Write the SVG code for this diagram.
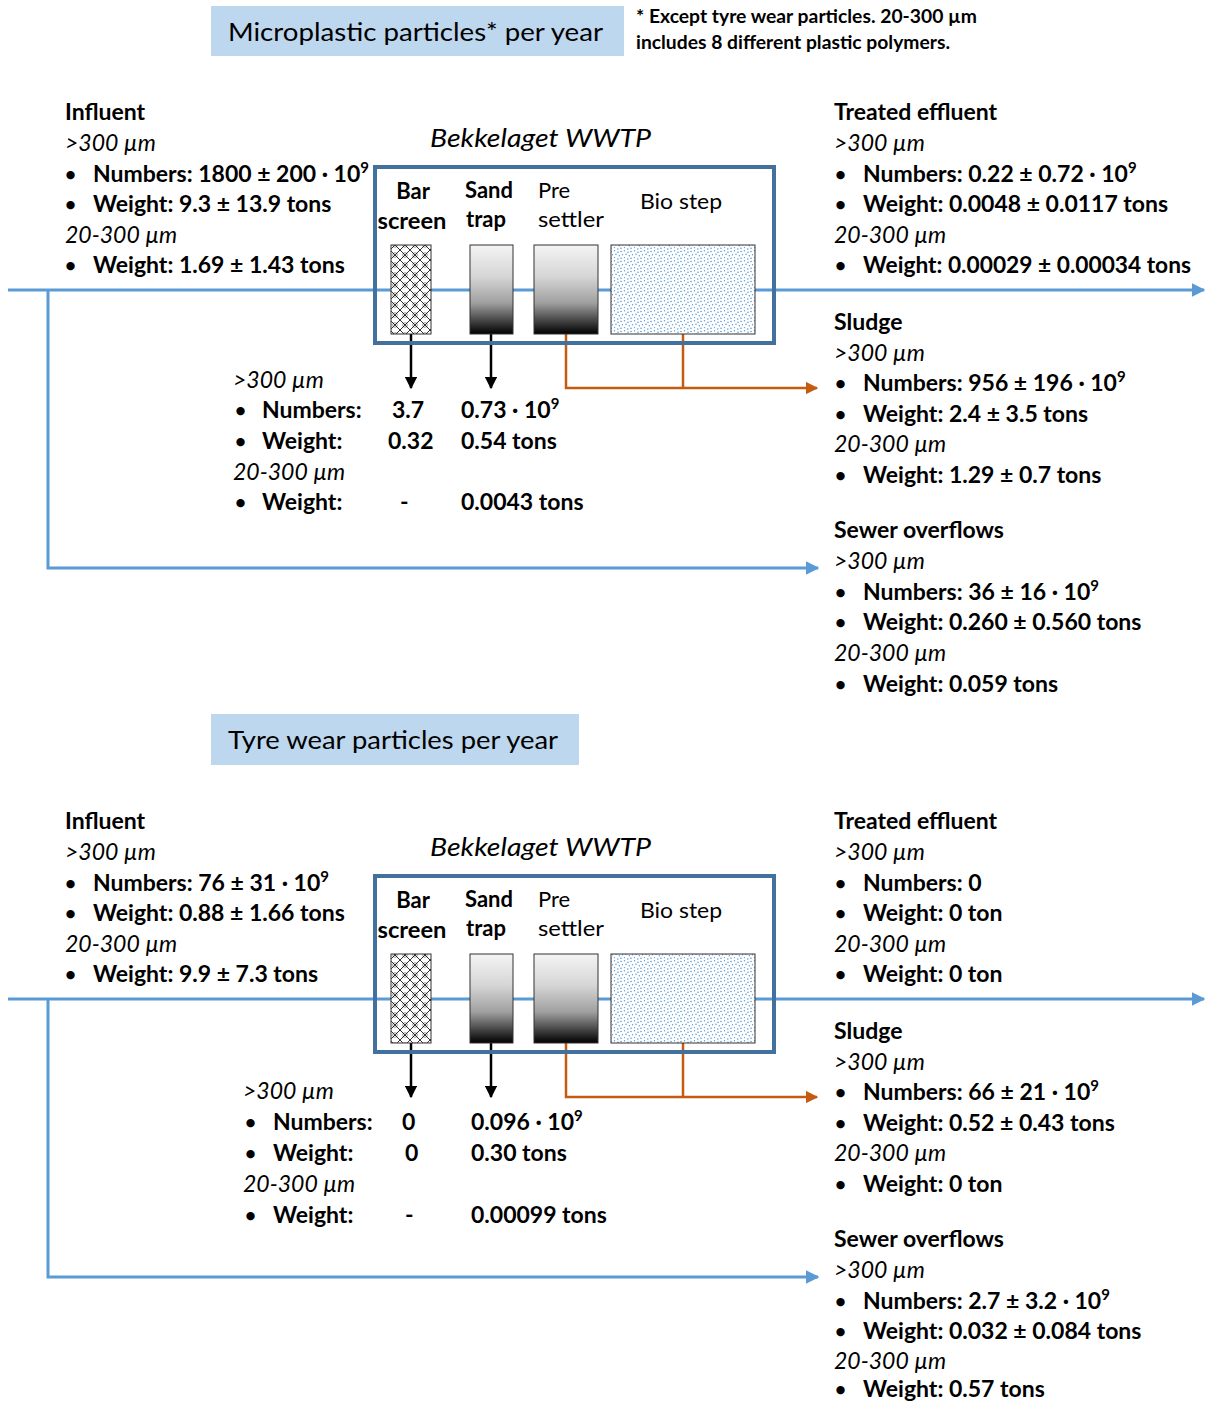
<svg xmlns="http://www.w3.org/2000/svg" width="1208" height="1403" viewBox="0 0 1208 1403">
<style>
text{font-family:Lato,"Liberation Sans",sans-serif;fill:#000}
.title{font-size:25px;font-weight:normal}
.note{font-size:18px;font-weight:bold}
.h{font-size:23px;font-weight:bold}
.i{font-size:23px;font-style:italic}
.b{font-size:23px;font-weight:bold}
.bu{font-size:19px;font-weight:bold}
.w{font-size:25px;font-style:italic}
.lb{font-size:22px;font-weight:bold}
.lr{font-size:22px;font-weight:normal}
.sup{font-size:15px}
.tbox{fill:#BDD7EE}
.plant{fill:none;stroke:#41719C;stroke-width:4}
.unit{stroke:#333;stroke-width:1}
.flow{fill:none;stroke:#5B9BD5;stroke-width:3}
.solid{fill:none;stroke:#000;stroke-width:2.5}
.sl{fill:none;stroke:#C55A11;stroke-width:2.5}
</style>
<defs>
<marker id="ab" viewBox="0 0 10 10" refX="9" refY="5" markerWidth="4.5" markerHeight="4.5" orient="auto" markerUnits="strokeWidth"><path d="M0,0 L10,5 L0,10 z" fill="#5B9BD5"/></marker>
<marker id="ak" viewBox="0 0 10 10" refX="9" refY="5" markerWidth="5" markerHeight="5" orient="auto" markerUnits="strokeWidth"><path d="M0,0 L10,5 L0,10 z" fill="#000"/></marker>
<marker id="ao" viewBox="0 0 10 10" refX="9" refY="5" markerWidth="5" markerHeight="5" orient="auto" markerUnits="strokeWidth"><path d="M0,0 L10,5 L0,10 z" fill="#C55A11"/></marker>
<pattern id="hatch" patternUnits="userSpaceOnUse" width="10" height="10">
<rect width="10" height="10" fill="#fff"/>
<path d="M0,0 L10,10 M10,0 L0,10 M-1,9 L1,11 M9,-1 L11,1" stroke="#000" stroke-width="0.8" fill="none"/>
<circle cx="5" cy="5" r="2.3" fill="none" stroke="#000" stroke-width="0.4"/>
</pattern>
<linearGradient id="grad" x1="0" y1="0" x2="0" y2="1">
<stop offset="0" stop-color="#F4F4F4"/>
<stop offset="0.35" stop-color="#D6D6D6"/>
<stop offset="0.65" stop-color="#A0A0A0"/>
<stop offset="1" stop-color="#000"/>
</linearGradient>
<pattern id="dots" patternUnits="userSpaceOnUse" width="10" height="10">
<rect width="10" height="10" fill="#fff"/>
<g fill="#5B9BD5">
<circle cx="1" cy="1.5" r="0.8"/><circle cx="4.5" cy="0.8" r="0.7"/><circle cx="8" cy="2.2" r="0.8"/>
<circle cx="2.5" cy="4.8" r="0.7"/><circle cx="6" cy="4.2" r="0.8"/><circle cx="9.3" cy="5.8" r="0.7"/>
<circle cx="1" cy="8.3" r="0.8"/><circle cx="4.5" cy="7.6" r="0.7"/><circle cx="7.8" cy="9" r="0.8"/>
</g>
</pattern>
</defs>

<!-- ============ TOP: Microplastic ============ -->
<g id="title-micro">
<rect class="tbox" x="211" y="6" width="413" height="50"/>
<text class="title" x="228" y="41" textLength="375" lengthAdjust="spacingAndGlyphs">Microplastic particles* per year</text>
</g>
<g id="footnote">
<text class="note" x="636" y="23" textLength="341" lengthAdjust="spacingAndGlyphs">* Except tyre wear particles. 20-300 µm</text>
<text class="note" x="636" y="49" textLength="314" lengthAdjust="spacingAndGlyphs">includes 8 different plastic polymers.</text>
</g>

<g id="connectors-top">
<path class="flow" d="M8,290 H1204" marker-end="url(#ab)"/>
<path class="flow" d="M48,290 V568 H818" marker-end="url(#ab)"/>
<path class="solid" d="M411,334 V388" marker-end="url(#ak)"/>
<path class="solid" d="M491,334 V388" marker-end="url(#ak)"/>
<path class="sl" d="M566,334 V388 H817" marker-end="url(#ao)"/>
<path class="sl" d="M683,334 V388"/>
</g>

<g id="wwtp-top">
<text class="w" x="430" y="147" textLength="221" lengthAdjust="spacingAndGlyphs">Bekkelaget WWTP</text>
<rect class="plant" x="375" y="167" width="399" height="176"/>
</g>
<g id="bar-screen-top">
<text class="lb" x="413" y="199" text-anchor="middle">Bar</text>
<text class="lb" x="412" y="229" text-anchor="middle" textLength="69" lengthAdjust="spacingAndGlyphs">screen</text>
<rect class="unit" x="391" y="245" width="40" height="89" fill="url(#hatch)"/>
</g>
<g id="sand-trap-top">
<text class="lb" x="465" y="198">Sand</text>
<text class="lb" x="466" y="227">trap</text>
<rect class="unit" x="470" y="245" width="43" height="89" fill="url(#grad)"/>
</g>
<g id="pre-settler-top">
<text class="lr" x="538" y="198">Pre</text>
<text class="lr" x="538" y="227" textLength="66" lengthAdjust="spacingAndGlyphs">settler</text>
<rect class="unit" x="534" y="245" width="64" height="89" fill="url(#grad)"/>
</g>
<g id="bio-step-top">
<text class="lr" x="640" y="209" textLength="82" lengthAdjust="spacingAndGlyphs">Bio step</text>
<rect class="unit" x="611" y="245" width="144" height="89" fill="url(#dots)"/>
</g>

<g id="influent-top">
<text class="h" x="65" y="120">Influent</text>
<text class="i" x="65" y="151">&gt;300 µm</text>
<text class="bu" x="65" y="181">•</text><text class="b" x="93" y="182">Numbers: 1800 ± 200 · 10<tspan class="sup" dy="-9">9</tspan></text>
<text class="bu" x="65" y="211">•</text><text class="b" x="93" y="212">Weight: 9.3 ± 13.9 tons</text>
<text class="i" x="65" y="243">20-300 µm</text>
<text class="bu" x="65" y="272">•</text><text class="b" x="93" y="273">Weight: 1.69 ± 1.43 tons</text>
</g>

<g id="removed-top">
<text class="i" x="233" y="388">&gt;300 µm</text>
<text class="bu" x="235" y="417">•</text><text class="b" x="262" y="418">Numbers:</text>
<text class="b" x="392" y="418">3.7</text>
<text class="b" x="461" y="418">0.73 · 10<tspan class="sup" dy="-9">9</tspan></text>
<text class="bu" x="235" y="448">•</text><text class="b" x="262" y="449">Weight:</text>
<text class="b" x="388" y="449">0.32</text>
<text class="b" x="461" y="449">0.54 tons</text>
<text class="i" x="233" y="480">20-300 µm</text>
<text class="bu" x="235" y="509">•</text><text class="b" x="262" y="510">Weight:</text>
<text class="b" x="400" y="510">-</text>
<text class="b" x="461" y="510">0.0043 tons</text>
</g>

<g id="effluent-top">
<text class="h" x="834" y="120">Treated effluent</text>
<text class="i" x="834" y="151">&gt;300 µm</text>
<text class="bu" x="835" y="181">•</text><text class="b" x="863" y="182">Numbers: 0.22 ± 0.72 · 10<tspan class="sup" dy="-9">9</tspan></text>
<text class="bu" x="835" y="211">•</text><text class="b" x="863" y="212">Weight: 0.0048 ± 0.0117 tons</text>
<text class="i" x="834" y="243">20-300 µm</text>
<text class="bu" x="835" y="272">•</text><text class="b" x="863" y="273" textLength="328" lengthAdjust="spacingAndGlyphs">Weight: 0.00029 ± 0.00034 tons</text>
</g>

<g id="sludge-top">
<text class="h" x="834" y="330">Sludge</text>
<text class="i" x="834" y="361">&gt;300 µm</text>
<text class="bu" x="835" y="390">•</text><text class="b" x="863" y="391">Numbers: 956 ± 196 · 10<tspan class="sup" dy="-9">9</tspan></text>
<text class="bu" x="835" y="421">•</text><text class="b" x="863" y="422">Weight: 2.4 ± 3.5 tons</text>
<text class="i" x="834" y="452">20-300 µm</text>
<text class="bu" x="835" y="482">•</text><text class="b" x="863" y="483">Weight: 1.29 ± 0.7 tons</text>
</g>

<g id="overflow-top">
<text class="h" x="834" y="538">Sewer overflows</text>
<text class="i" x="834" y="569">&gt;300 µm</text>
<text class="bu" x="835" y="599">•</text><text class="b" x="863" y="600">Numbers: 36 ± 16 · 10<tspan class="sup" dy="-9">9</tspan></text>
<text class="bu" x="835" y="629">•</text><text class="b" x="863" y="630">Weight: 0.260 ± 0.560 tons</text>
<text class="i" x="834" y="661">20-300 µm</text>
<text class="bu" x="835" y="691">•</text><text class="b" x="863" y="692">Weight: 0.059 tons</text>
</g>

<!-- ============ BOTTOM: Tyre wear ============ -->
<g id="title-tyre">
<rect class="tbox" x="211" y="714" width="368" height="51"/>
<text class="title" x="228" y="749" textLength="330" lengthAdjust="spacingAndGlyphs">Tyre wear particles per year</text>
</g>

<g id="connectors-bottom">
<path class="flow" d="M8,999 H1204" marker-end="url(#ab)"/>
<path class="flow" d="M48,999 V1277 H818" marker-end="url(#ab)"/>
<path class="solid" d="M411,1043 V1097" marker-end="url(#ak)"/>
<path class="solid" d="M491,1043 V1097" marker-end="url(#ak)"/>
<path class="sl" d="M566,1043 V1097 H817" marker-end="url(#ao)"/>
<path class="sl" d="M683,1043 V1097"/>
</g>

<g id="wwtp-bottom">
<text class="w" x="430" y="856" textLength="221" lengthAdjust="spacingAndGlyphs">Bekkelaget WWTP</text>
<rect class="plant" x="375" y="876" width="399" height="176"/>
</g>
<g id="bar-screen-bottom">
<text class="lb" x="413" y="908" text-anchor="middle">Bar</text>
<text class="lb" x="412" y="938" text-anchor="middle" textLength="69" lengthAdjust="spacingAndGlyphs">screen</text>
<rect class="unit" x="391" y="954" width="40" height="89" fill="url(#hatch)"/>
</g>
<g id="sand-trap-bottom">
<text class="lb" x="465" y="907">Sand</text>
<text class="lb" x="466" y="936">trap</text>
<rect class="unit" x="470" y="954" width="43" height="89" fill="url(#grad)"/>
</g>
<g id="pre-settler-bottom">
<text class="lr" x="538" y="907">Pre</text>
<text class="lr" x="538" y="936" textLength="66" lengthAdjust="spacingAndGlyphs">settler</text>
<rect class="unit" x="534" y="954" width="64" height="89" fill="url(#grad)"/>
</g>
<g id="bio-step-bottom">
<text class="lr" x="640" y="918" textLength="82" lengthAdjust="spacingAndGlyphs">Bio step</text>
<rect class="unit" x="611" y="954" width="144" height="89" fill="url(#dots)"/>
</g>

<g id="influent-bottom">
<text class="h" x="65" y="829">Influent</text>
<text class="i" x="65" y="860">&gt;300 µm</text>
<text class="bu" x="65" y="890">•</text><text class="b" x="93" y="891">Numbers: 76 ± 31 · 10<tspan class="sup" dy="-9">9</tspan></text>
<text class="bu" x="65" y="920">•</text><text class="b" x="93" y="921">Weight: 0.88 ± 1.66 tons</text>
<text class="i" x="65" y="952">20-300 µm</text>
<text class="bu" x="65" y="981">•</text><text class="b" x="93" y="982">Weight: 9.9 ± 7.3 tons</text>
</g>

<g id="removed-bottom">
<text class="i" x="243" y="1099">&gt;300 µm</text>
<text class="bu" x="245" y="1129">•</text><text class="b" x="273" y="1130">Numbers:</text>
<text class="b" x="402" y="1130">0</text>
<text class="b" x="471" y="1130">0.096 · 10<tspan class="sup" dy="-9">9</tspan></text>
<text class="bu" x="245" y="1160">•</text><text class="b" x="273" y="1161">Weight:</text>
<text class="b" x="405" y="1161">0</text>
<text class="b" x="471" y="1161">0.30 tons</text>
<text class="i" x="243" y="1192">20-300 µm</text>
<text class="bu" x="245" y="1222">•</text><text class="b" x="273" y="1223">Weight:</text>
<text class="b" x="405" y="1223">-</text>
<text class="b" x="471" y="1223">0.00099 tons</text>
</g>

<g id="effluent-bottom">
<text class="h" x="834" y="829">Treated effluent</text>
<text class="i" x="834" y="860">&gt;300 µm</text>
<text class="bu" x="835" y="890">•</text><text class="b" x="863" y="891">Numbers: 0</text>
<text class="bu" x="835" y="920">•</text><text class="b" x="863" y="921">Weight: 0 ton</text>
<text class="i" x="834" y="952">20-300 µm</text>
<text class="bu" x="835" y="981">•</text><text class="b" x="863" y="982">Weight: 0 ton</text>
</g>

<g id="sludge-bottom">
<text class="h" x="834" y="1039">Sludge</text>
<text class="i" x="834" y="1070">&gt;300 µm</text>
<text class="bu" x="835" y="1099">•</text><text class="b" x="863" y="1100">Numbers: 66 ± 21 · 10<tspan class="sup" dy="-9">9</tspan></text>
<text class="bu" x="835" y="1130">•</text><text class="b" x="863" y="1131">Weight: 0.52 ± 0.43 tons</text>
<text class="i" x="834" y="1161">20-300 µm</text>
<text class="bu" x="835" y="1191">•</text><text class="b" x="863" y="1192">Weight: 0 ton</text>
</g>

<g id="overflow-bottom">
<text class="h" x="834" y="1247">Sewer overflows</text>
<text class="i" x="834" y="1278">&gt;300 µm</text>
<text class="bu" x="835" y="1308">•</text><text class="b" x="863" y="1309">Numbers: 2.7 ± 3.2 · 10<tspan class="sup" dy="-9">9</tspan></text>
<text class="bu" x="835" y="1338">•</text><text class="b" x="863" y="1339">Weight: 0.032 ± 0.084 tons</text>
<text class="i" x="834" y="1369">20-300 µm</text>
<text class="bu" x="835" y="1396">•</text><text class="b" x="863" y="1397">Weight: 0.57 tons</text>
</g>
</svg>
